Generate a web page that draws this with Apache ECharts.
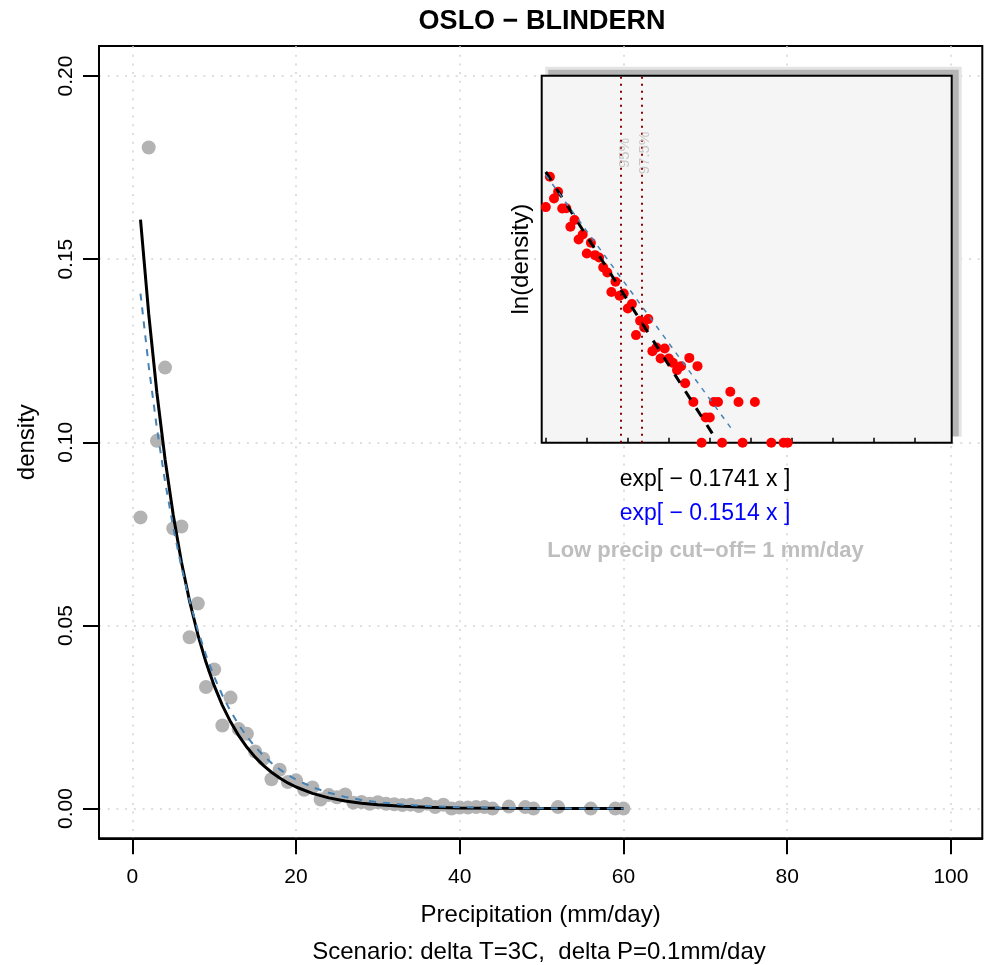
<!DOCTYPE html>
<html><head><meta charset="utf-8">
<script src="https://cdn.jsdelivr.net/npm/echarts@6/dist/echarts.min.js"></script>
<style>html,body{margin:0;padding:0;background:#fff}#c{width:984px;height:965px}</style>
</head><body><div id="c"></div>
<script>
// ---- data ----
const precipX = [1,2,3,4,5,6,7,8,9,10,11,12,13,14,15,16,17,18,19,20,21,22,23,24,25,26,27,28,29,30,31,32,33,34,35,36,37,38,39,40,41,42,43,44,46,48,49,52,56,59,60];
const density = [0.0795,0.1805,0.1004,0.1204,0.0765,0.0770,0.0468,0.0560,0.0332,0.0380,0.0227,0.0303,0.0217,0.0204,0.0156,0.0136,0.0080,0.0106,0.00724,0.00771,0.00514,0.00578,0.00250,0.00368,0.00307,0.00385,0.00162,0.00179,0.00133,0.00174,0.00133,0.00118,0.00097,0.00108,0.00068,0.00135,0.00041,0.00108,0,0.00027,0.00027,0.00041,0.00041,0,0.00054,0.00041,0,0.00041,0,0,0];
// fitted curves
const curveX   = [1,2,3,4,5,6,7,8,9,10,11,12,13,14,15,16,17,18,19,20,22,24,26,28,30,33,36,40,45,50,60];
const blackFit = [0.16082,0.13512,0.11353,0.09539,0.08015,0.06734,0.05658,0.04754,0.03994,0.03356,0.02820,0.02369,0.01991,0.01673,0.01405,0.01181,0.00992,0.00834,0.00700,0.00589,0.00416,0.00293,0.00207,0.00146,0.00103,0.00061,0.00036,0.00018,0.00008,0.00003,0.000006];
const blueFit  = [0.14062,0.12086,0.10388,0.08929,0.07674,0.06596,0.05669,0.04873,0.04188,0.03600,0.03094,0.02659,0.02286,0.01965,0.01689,0.01451,0.01247,0.01072,0.00922,0.00792,0.00585,0.00432,0.00319,0.00236,0.00174,0.00110,0.00070,0.00038,0.00018,0.000084,0.000018];
// inset fit lines (ln density) endpoints
const insetBlackX = [1, 42.7],  insetBlackLn = [-1.58, -8.84];
const insetBlueX  = [1, 46.5],  insetBlueLn  = [-1.667, -8.556];
const quantX = [19.4, 24.3];
const quantLabels = ['95%', '97.5%'];
const xTicks = [0,20,40,60,80,100];
const yTicks = [0,0.05,0.10,0.15,0.20];
const insetTicks = [1,11,21,31,41,51,61,71,81,91];
const INSET_YMIN = -8.90, INSET_YMAX = 1.02;

const F = 'Liberation Sans, Arial, Helvetica, sans-serif';
const MAIN = {left: 99, top: 46, right: 1.7, bottom: 126.7};
const INS = {left: 541.7, top: 75.7, width: 410, height: 367};

const mainPts = precipX.map((x,i)=>[x, density[i]]);
const insetPts = precipX.map((x,i)=>[x, density[i] > 0 ? Math.log(density[i]) : INSET_YMIN]);

const chart = echarts.init(document.getElementById('c'), null, {renderer:'canvas'});
chart.setOption({
  animation: false,
  backgroundColor: '#fff',
  textStyle: {fontFamily: F},
  grid: [
    {left: MAIN.left, top: MAIN.top, right: MAIN.right, bottom: MAIN.bottom, show: true, borderColor: '#000', borderWidth: 2, backgroundColor: 'transparent'},
    {left: INS.left, top: INS.top, width: INS.width, height: INS.height, show: false}
  ],
  xAxis: [
    {type:'value', gridIndex:0, min:-4.07, max:103.83,
     axisLine:{show:true, onZero:false, lineStyle:{color:'#000', width:2}},
     axisTick:{show:true, length:16, customValues:xTicks, lineStyle:{color:'#000', width:2}},
     axisLabel:{customValues:xTicks, color:'#000', fontSize:21, margin:28, fontFamily:F},
     splitLine:{show:true, lineStyle:{color:'#d3d3d3', width:1.5, type:[2,6.7]}},
     name:'Precipitation (mm/day)', nameLocation:'middle', nameGap:65,
     nameTextStyle:{color:'#000', fontSize:24, fontFamily:F}},
    {type:'value', gridIndex:1, min:0, max:100, z:3, position:'bottom',
     axisLine:{show:false, onZero:false},
     axisTick:{show:true, inside:true, length:5, customValues:insetTicks, lineStyle:{color:'#000', width:1.5}},
     axisLabel:{show:false}, splitLine:{show:false}}
  ],
  yAxis: [
    {type:'value', gridIndex:0, min:-0.00811, max:0.2082,
     axisLine:{show:true, onZero:false, lineStyle:{color:'#000', width:2}},
     axisTick:{show:true, length:16, customValues:yTicks, lineStyle:{color:'#000', width:2}},
     axisLabel:{customValues:yTicks, rotate:90, color:'#000', fontSize:21, margin:22, fontFamily:F,
       formatter:v=>v.toFixed(2)},
     splitLine:{show:true, lineStyle:{color:'#d3d3d3', width:1.5, type:[2,6.7]}},
     name:'density', nameLocation:'middle', nameGap:60,
     nameTextStyle:{color:'#000', fontSize:24, fontFamily:F}},
    {type:'value', gridIndex:1, min:INSET_YMIN, max:INSET_YMAX, z:3,
     axisLine:{show:false, onZero:false}, axisTick:{show:false}, axisLabel:{show:false}, splitLine:{show:false},
     name:'ln(density)', nameLocation:'middle', nameGap:8,
     nameTextStyle:{color:'#000', fontSize:24, fontFamily:F}}
  ],
  graphic: [
    {type:'rect', z:1, silent:true, shape:{x:INS.left+3.5, y:INS.top-9, width:INS.width+6.5, height:INS.height+3}, style:{fill:'#e4e4e4'}},
    {type:'rect', z:1, silent:true, shape:{x:INS.left+6.5, y:INS.top-6, width:INS.width+0.5, height:INS.height-0.5}, style:{fill:'#b5b5b5'}},
    {type:'rect', z:1, silent:true, shape:{x:INS.left, y:INS.top, width:INS.width, height:INS.height}, style:{fill:'#f5f5f5', stroke:'#000', lineWidth:2}},
    {type:'text', z:5, x:542, y:22, style:{text:'OSLO − BLINDERN', font:'bold 27px '+F, fill:'#000', align:'center', verticalAlign:'middle'}},
    {type:'text', z:5, x:539, y:952, style:{text:'Scenario: delta T=3C,  delta P=0.1mm/day', font:'24px '+F, fill:'#000', align:'center', verticalAlign:'middle'}},
    {type:'text', z:5, x:705, y:480, style:{text:'exp[ − 0.1741 x ]', font:'23px '+F, fill:'#000', align:'center', verticalAlign:'middle'}},
    {type:'text', z:5, x:705, y:514, style:{text:'exp[ − 0.1514 x ]', font:'23px '+F, fill:'#0000ff', align:'center', verticalAlign:'middle'}},
    {type:'text', z:5, x:705.5, y:551, style:{text:'Low precip cut−off= 1 mm/day', font:'bold 22px '+F, fill:'#bebebe', align:'center', verticalAlign:'middle'}}
  ],
  series: [
    {type:'scatter', xAxisIndex:0, yAxisIndex:0, data: mainPts, symbolSize:14, itemStyle:{color:'#b3b3b3', opacity:1}, z:2},
    {type:'line', xAxisIndex:0, yAxisIndex:0, data: curveX.map((x,i)=>[x, blackFit[i]]), smooth:false, showSymbol:false, symbol:'none', lineStyle:{color:'#000', width:3}, z:3},
    {type:'line', xAxisIndex:0, yAxisIndex:0, data: curveX.map((x,i)=>[x, blueFit[i]]), smooth:false, showSymbol:false, symbol:'none', lineStyle:{color:'#4682b4', width:2, type:[7,7]}, z:4},
    {type:'scatter', xAxisIndex:1, yAxisIndex:1, data: insetPts, symbolSize:10, itemStyle:{color:'#ff0000', opacity:1}, z:4,
     markLine:{silent:true, symbol:'none', label:{show:false}, lineStyle:{color:'#8b0000', width:2, type:[2,5]},
       data: quantX.map(q=>({xAxis:q}))}},
    {type:'line', xAxisIndex:1, yAxisIndex:1, data: insetBlackX.map((x,i)=>[x, insetBlackLn[i]]), showSymbol:false, symbol:'none', lineStyle:{color:'#000', width:3, type:[10,10]}, z:5},
    {type:'line', xAxisIndex:1, yAxisIndex:1, data: insetBlueX.map((x,i)=>[x, insetBlueLn[i]]), showSymbol:false, symbol:'none', lineStyle:{color:'#4682b4', width:1.5, type:[5,6]}, z:5},
    {type:'scatter', xAxisIndex:1, yAxisIndex:1, data: quantX.map((q,i)=>({value:[q+0.8, -1.07], name: quantLabels[i]})), symbolSize:0, z:5,
     label:{show:true, formatter:p=>p.name, rotate:90, color:'#bbbbbb', fontSize:15, fontFamily:F, position:'inside'}}
  ]
});
</script></body></html>
